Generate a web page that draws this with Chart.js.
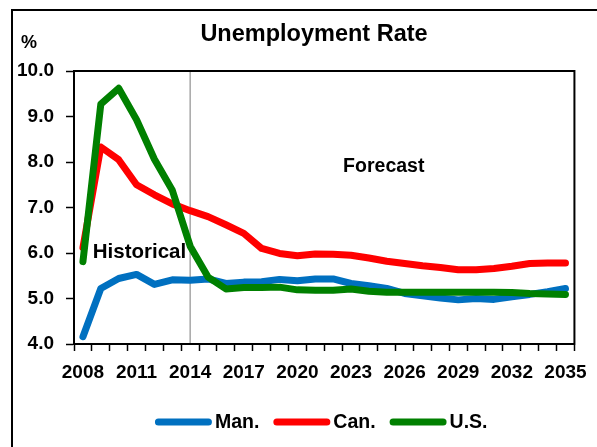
<!DOCTYPE html>
<html>
<head>
<meta charset="utf-8">
<title>Unemployment Rate</title>
<script src="https://cdn.jsdelivr.net/npm/chart.js@4/dist/chart.umd.min.js"></script>
<style>
  html, body { margin: 0; padding: 0; background: #fff; }
  #wrap { width: 597px; height: 447px; position: relative; }
</style>
</head>
<body>
<div id="wrap"><canvas id="chart"></canvas></div>
<script>
'use strict';

/* ── Data ── */
const years = [];
for (let y = 2008; y <= 2035; y++) years.push(String(y));

const manitoba = [4.16, 5.22, 5.44, 5.53, 5.31, 5.41, 5.40, 5.43, 5.33, 5.36,
                  5.37, 5.42, 5.39, 5.43, 5.43, 5.33, 5.28, 5.22, 5.11, 5.06,
                  5.01, 4.97, 5.00, 4.98, 5.04, 5.09, 5.15, 5.22];
const canada   = [6.12, 8.33, 8.05, 7.50, 7.28, 7.08, 6.93, 6.80, 6.62, 6.43,
                  6.10, 5.99, 5.94, 5.98, 5.97, 5.95, 5.89, 5.82, 5.77, 5.72,
                  5.68, 5.63, 5.63, 5.66, 5.71, 5.77, 5.78, 5.78];
const usa      = [5.81, 9.27, 9.62, 8.93, 8.06, 7.38, 6.15, 5.47, 5.21, 5.24,
                  5.24, 5.25, 5.19, 5.18, 5.18, 5.21, 5.16, 5.14, 5.14, 5.14,
                  5.14, 5.14, 5.14, 5.14, 5.13, 5.11, 5.10, 5.09];

const seriesNames  = ['Man.', 'Can.', 'U.S.'];
const seriesColors = ['#0070C0', '#FF0000', '#008000'];
const yTicks = [4, 5, 6, 7, 8, 9, 10];
const splitYear = '2014';

const FONT = '"Liberation Sans", Arial, sans-serif';

/* ── Frame, title, notes, divider, legend ── */
const decorations = {
  id: 'decorations',
  beforeDatasetsDraw(chart) {
    const { ctx, chartArea: a, scales: { x } } = chart;
    const sx = x.getPixelForValue(years.indexOf(splitYear));
    ctx.save();
    ctx.strokeStyle = '#A6A6A6';
    ctx.lineWidth = 1.5;
    ctx.beginPath();
    ctx.moveTo(sx, a.top);
    ctx.lineTo(sx, a.bottom);
    ctx.stroke();
    ctx.restore();
  },
  afterDraw(chart) {
    const { ctx, chartArea: a, scales: { x, y } } = chart;
    ctx.save();

    // outer frame (top + left edges visible)
    ctx.strokeStyle = '#000';
    ctx.lineWidth = 2;
    ctx.beginPath();
    ctx.moveTo(12, chart.height + 2);
    ctx.lineTo(12, 10);
    ctx.lineTo(chart.width + 2, 10);
    ctx.stroke();

    // plot area box
    ctx.lineWidth = 2;
    ctx.strokeRect(a.left, a.top, a.right - a.left, a.bottom - a.top);

    ctx.fillStyle = '#000';
    ctx.textBaseline = 'alphabetic';

    ctx.font = `bold 23.5px ${FONT}`;
    ctx.textAlign = 'center';
    ctx.fillText('Unemployment Rate', 314, 41);

    ctx.font = `bold 18px ${FONT}`;
    ctx.textAlign = 'left';
    ctx.fillText('%', 21, 48);

    // period notes
    const sx = x.getPixelForValue(years.indexOf(splitYear));
    ctx.font = `bold 20.5px ${FONT}`;
    ctx.textAlign = 'right';
    ctx.fillText('Historical', sx - 4, y.getPixelForValue(5.9));

    ctx.font = `bold 19.5px ${FONT}`;
    ctx.textAlign = 'center';
    ctx.fillText('Forecast', x.getPixelForValue(years.indexOf('2025')) - 3, y.getPixelForValue(7.78));

    // legend
    ctx.font = `bold 19.5px ${FONT}`;
    ctx.textAlign = 'left';
    ctx.textBaseline = 'middle';
    const lineLen = 50, gap = 3, space = 14, ly = 422;
    const widths = seriesNames.map(n => lineLen + 7 + gap + ctx.measureText(n).width);
    const total = widths.reduce((s, w) => s + w, 0) + space * (widths.length - 1);
    let lx = (a.left + a.right) / 2 - 3 - total / 2;
    seriesNames.forEach((name, i) => {
      ctx.strokeStyle = seriesColors[i];
      ctx.lineWidth = 7;
      ctx.lineCap = 'round';
      ctx.beginPath();
      ctx.moveTo(lx + 3.5, ly);
      ctx.lineTo(lx + 3.5 + lineLen, ly);
      ctx.stroke();
      ctx.fillText(name, lx + lineLen + 7 + gap, ly + 1);
      lx += widths[i] + space;
    });

    ctx.restore();
  }
};

/* ── Chart ── */
const seriesData = [manitoba, canada, usa];

new Chart(document.getElementById('chart'), {
  type: 'line',
  data: {
    labels: years,
    datasets: seriesNames.map((name, i) => ({
      label: name,
      data: seriesData[i],
      borderColor: seriesColors[i],
      backgroundColor: seriesColors[i],
      borderWidth: 7,
      borderJoinStyle: 'round',
      borderCapStyle: 'round',
      pointRadius: 0,
      tension: 0,
      order: seriesNames.length - i,
    })),
  },
  options: {
    responsive: true,
    maintainAspectRatio: false,
    animation: false,
    layout: { padding: { left: 0, right: 21, top: 71, bottom: 0 } },
    plugins: {
      legend: { display: false },
      title: { display: false },
      tooltip: { enabled: false },
    },
    scales: {
      x: {
        type: 'category',
        offset: true,
        afterFit(scale) { scale.height = 103; },
        grid: {
          offset: true,
          drawOnChartArea: false,
          drawTicks: true,
          tickLength: 7,
          tickColor: '#000',
          tickWidth: 1.5,
        },
        border: { display: true, color: '#000', width: 2 },
        ticks: {
          autoSkip: false,
          maxRotation: 0,
          padding: 10,
          color: '#000',
          font: { family: FONT, size: 19, weight: 'bold' },
          callback(value, index) {
            return (index % 3 === 0) ? years[index] : '';
          },
        },
      },
      y: {
        min: yTicks[0],
        max: yTicks[yTicks.length - 1],
        afterFit(scale) { scale.width = 74; },
        afterBuildTicks(scale) { scale.ticks = yTicks.map(v => ({ value: v })); },
        grid: {
          drawOnChartArea: false,
          drawTicks: true,
          tickLength: 8,
          tickColor: '#000',
          tickWidth: 1.5,
        },
        border: { display: true, color: '#000', width: 2 },
        ticks: {
          padding: 12,
          color: '#000',
          font: { family: FONT, size: 19, weight: 'bold' },
          callback: v => Number(v).toFixed(1),
        },
      },
    },
  },
  plugins: [decorations],
});
</script>
</body>
</html>
